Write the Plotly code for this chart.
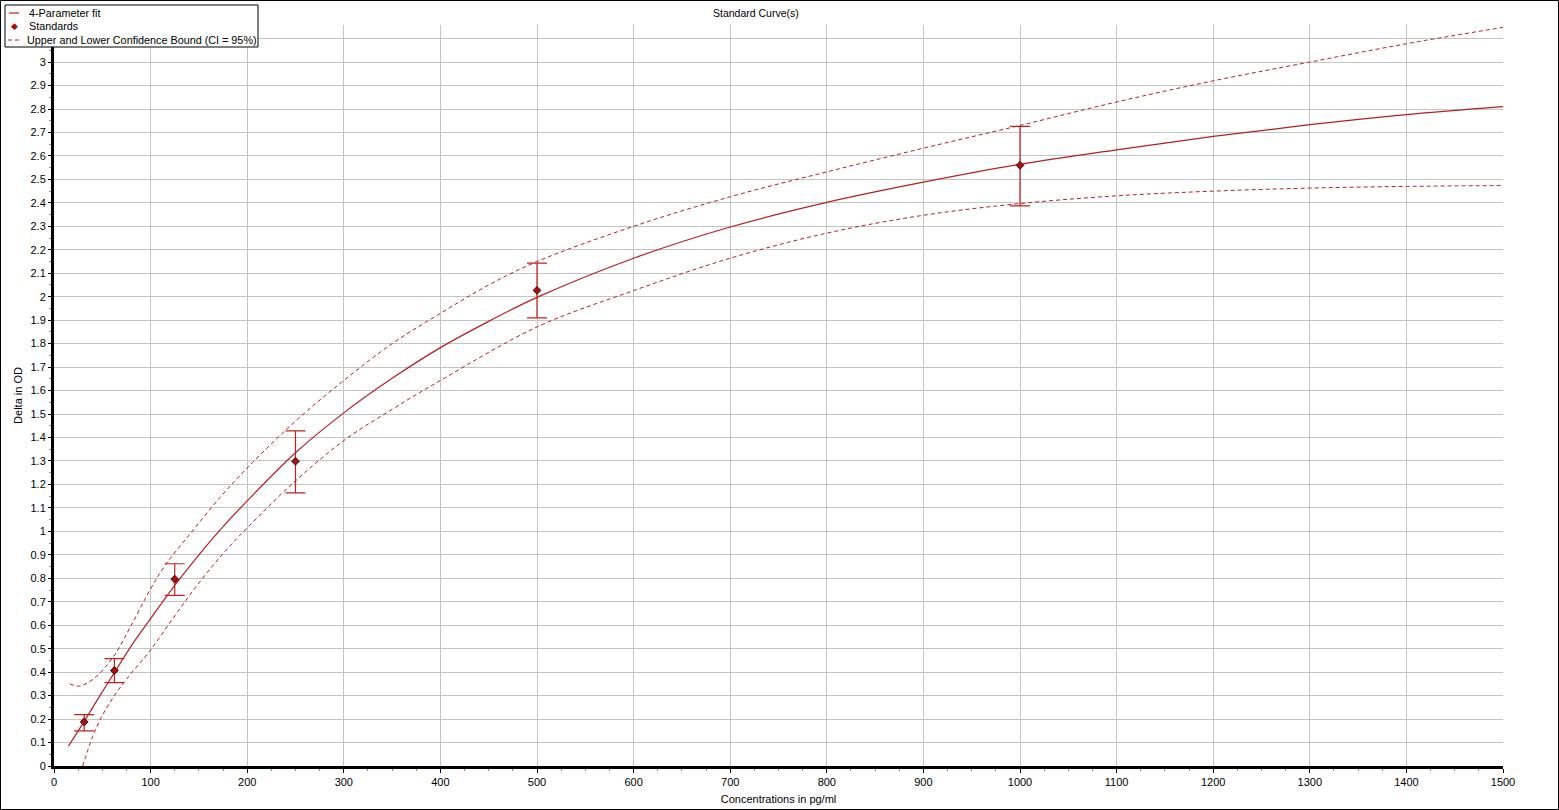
import plotly.graph_objects as go

# 4-parameter fit curve
fit_x = [15, 31.25, 45, 62.5, 80, 100, 125, 150, 175, 200, 250, 300, 350, 400, 450,
         500, 600, 700, 800, 900, 1000, 1100, 1200, 1300, 1400, 1500]
fit_y = [0.085, 0.19, 0.283, 0.398, 0.512, 0.628, 0.77, 0.90, 1.02, 1.13, 1.335, 1.505, 1.652,
         1.783, 1.895, 1.997, 2.164, 2.297, 2.402, 2.488, 2.564, 2.626, 2.683, 2.733, 2.776, 2.81]

# confidence bounds
upper_x = [16.5, 25, 35, 46, 63, 80, 100, 115, 140, 172, 200, 250, 300, 350, 400, 450,
           500, 600, 700, 800, 900, 1000, 1100, 1200, 1300, 1400, 1500]
upper_y = [0.35, 0.34, 0.355, 0.39, 0.475, 0.60, 0.755, 0.855, 0.985, 1.145, 1.27, 1.47, 1.643,
           1.80, 1.929, 2.05, 2.15, 2.30, 2.426, 2.532, 2.633, 2.73, 2.83, 2.92, 3.0, 3.078, 3.148]
lower_x = [29.7, 40, 50, 62.5, 75, 100, 125, 150, 175, 200, 250, 300, 350, 400,
           500, 600, 700, 800, 900, 1000, 1100, 1200, 1300, 1400, 1500]
lower_y = [0.0, 0.125, 0.215, 0.30, 0.37, 0.495, 0.64, 0.78, 0.905, 1.015, 1.215, 1.387, 1.52,
           1.643, 1.871, 2.026, 2.164, 2.271, 2.347, 2.397, 2.43, 2.45, 2.463, 2.47, 2.474]

# standards with error bar ends
std_x = [31.25, 62.5, 125, 250, 500, 1000]
std_y = [0.188, 0.407, 0.796, 1.299, 2.027, 2.56]
std_hi = [0.219, 0.458, 0.862, 1.428, 2.143, 2.726]
std_lo = [0.150, 0.355, 0.727, 1.164, 1.910, 2.387]

# y ticks: the 3.1 label sits under the legend box in the original
y_tickvals = [round(i * 0.1, 1) for i in range(32)]
y_ticktext = ['0', '0.1', '0.2', '0.3', '0.4', '0.5', '0.6', '0.7', '0.8', '0.9',
              '1', '1.1', '1.2', '1.3', '1.4', '1.5', '1.6', '1.7', '1.8', '1.9',
              '2', '2.1', '2.2', '2.3', '2.4', '2.5', '2.6', '2.7', '2.8', '2.9', '3', '']

legend_names = ['4-Parameter fit', 'Standards', 'Upper and Lower Confidence Bound (CI = 95%)']

RED = '#b42020'
FONT = 'Liberation Sans, Arial, sans-serif'

L, R, T, B = 54, 56, 25, 44
W, H = 1559, 810
pw, ph = W - L - R, H - T - B


def px(x):
    return (x - L) / pw


def py(y):
    return (H - B - y) / ph


fig = go.Figure()

fig.add_trace(go.Scatter(
    x=upper_x, y=upper_y, mode='lines', line_shape='spline',
    line=dict(color=RED, width=1, dash='4px,3px'), name=legend_names[2]))
fig.add_trace(go.Scatter(
    x=lower_x, y=lower_y, mode='lines', line_shape='spline',
    line=dict(color=RED, width=1, dash='4px,3px'), name=legend_names[2]))
fig.add_trace(go.Scatter(
    x=fit_x, y=fit_y, mode='lines', line_shape='spline',
    line=dict(color=RED, width=1.2), name=legend_names[0]))
fig.add_trace(go.Scatter(
    x=std_x, y=std_y, mode='markers',
    marker=dict(symbol='diamond', size=6, color='#9e1414', line=dict(color='#5a0000', width=1)),
    error_y=dict(type='data', symmetric=False,
                 array=[h - y for h, y in zip(std_hi, std_y)],
                 arrayminus=[y - l for y, l in zip(std_y, std_lo)],
                 color='#c0201c', thickness=1.2, width=10),
    name=legend_names[1]))

# hand-drawn legend box like the original software
shapes = [
    dict(type='rect', xref='paper', yref='paper',
         x0=px(0.5), x1=px(W - 0.5), y0=py(H - 0.5), y1=py(0.5),
         line=dict(color='black', width=1), layer='above'),
    dict(type='rect', xref='paper', yref='paper',
         x0=px(5), x1=px(258), y0=py(47), y1=py(5),
         line=dict(color='black', width=1), fillcolor='white', layer='above'),
    dict(type='line', xref='paper', yref='paper',
         x0=px(9), x1=px(19), y0=py(13), y1=py(13),
         line=dict(color=RED, width=1.2), layer='above'),
    dict(type='line', xref='paper', yref='paper',
         x0=px(8), x1=px(21), y0=py(40), y1=py(40),
         line=dict(color=RED, width=1, dash='4px,3px'), layer='above'),
]
annotations = [
    dict(text='◆', xref='paper', yref='paper', x=px(14), y=py(26.5),
         xanchor='center', yanchor='middle', showarrow=False,
         font=dict(size=9, color='#9e1414')),
]
for name, ty, tx in zip(legend_names, [13, 26.5, 40], [27, 27, 25]):
    annotations.append(dict(text=name, xref='paper', yref='paper', x=px(tx), y=py(ty),
                            xanchor='left', yanchor='middle', showarrow=False,
                            font=dict(size=10.8, color='black')))
annotations.append(dict(text='Standard Curve(s)', xref='paper', yref='paper',
                        x=px(756), y=py(13), xanchor='center', yanchor='middle',
                        showarrow=False, font=dict(size=10.5, color='black')))

fig.update_layout(
    width=W, height=H,
    margin=dict(l=L, r=R, t=T, b=B, autoexpand=False),
    paper_bgcolor='white', plot_bgcolor='white',
    font=dict(family=FONT, size=11, color='black'),
    showlegend=False,
    shapes=shapes,
    annotations=annotations,
)

fig.update_xaxes(
    range=[0, 1500], dtick=100, tick0=0,
    showgrid=True, gridcolor='#c4c4c4', gridwidth=1,
    showline=True, linecolor='black', linewidth=3,
    ticks='outside', ticklen=4, tickcolor='black',
    minor=dict(dtick=25, ticks='outside', ticklen=2, tickcolor='#888888', showgrid=False),
    zeroline=False,
    title=dict(text='Concentrations in pg/ml', standoff=9, font=dict(size=11)),
)
fig.update_yaxes(
    range=[0, 3.158], tickvals=y_tickvals, ticktext=y_ticktext,
    showgrid=True, gridcolor='#c4c4c4', gridwidth=1,
    showline=True, linecolor='black', linewidth=3,
    ticks='outside', ticklen=3, tickcolor='black',
    minor=dict(dtick=0.05, ticks='outside', ticklen=2, tickcolor='#888888', showgrid=False),
    zeroline=False,
    title=dict(text='Delta in OD', standoff=6, font=dict(size=11)),
)

fig.write_html('out.html', config={'displayModeBar': False},
               post_script="document.body.style.margin='0';")
